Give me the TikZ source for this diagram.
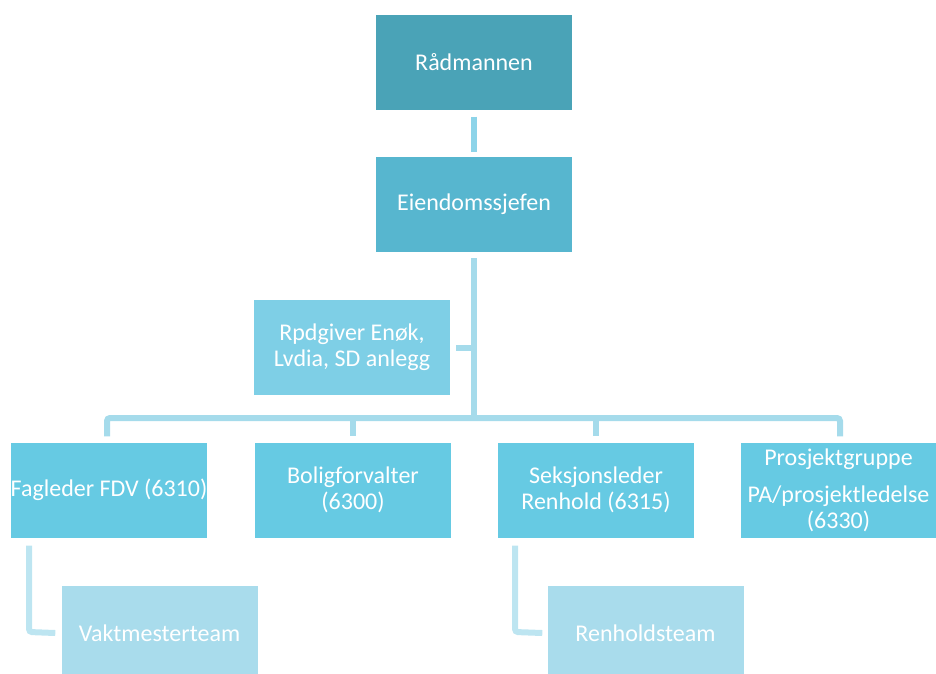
\documentclass[tikz,border=0pt]{standalone}
\usepackage{fontspec}
\setmainfont{Carlito}
\definecolor{cTop}{HTML}{4AA3B7}
\definecolor{cMid}{HTML}{57B6CF}
\definecolor{cAdv}{HTML}{7ECFE6}
\definecolor{cRow}{HTML}{66CAE3}
\definecolor{cChild}{HTML}{A9DCEC}
\definecolor{cLine}{HTML}{A5DBEB}
\definecolor{cLineTop}{HTML}{8DD4E9}
\definecolor{cLineChild}{HTML}{BDE5F1}
\begin{document}
\begin{tikzpicture}[x=1pt,y=-1pt,
  box/.style={rectangle, minimum width=196pt, minimum height=95pt, inner sep=0pt,
    text=white, align=center, font=\fontsize{24}{26}\selectfont},
  conn/.style={line width=6pt, color=cLine, rounded corners=3pt},
]
\useasboundingbox (0,0) rectangle (936,673);
\node[box, fill=cTop] (rad) at (474,62) {Rådmannen};
\node[box, fill=cMid] (eien) at (474,204.5) {Eiendomssjefen};
\node[box, fill=cAdv] (adv) at (352,347.5) {Rpdgiver Enøk,\\Lvdia, SD anlegg};
\node[box, fill=cRow] (fag) at (109,490) {Fagleder FDV (6310)};
\node[box, fill=cRow] (bol) at (353,490) {Boligforvalter\\(6300)};
\node[box, fill=cRow] (sek) at (596,490) {Seksjonsleder\\Renhold (6315)};
\node[box, fill=cRow] (pro) at (838.5,490) {Prosjektgruppe\\[11pt]PA/prosjektledelse\\(6330)};
\node[box, fill=cChild] (vak) at (159.5,633) {Vaktmesterteam};
\node[box, fill=cChild] (ren) at (645.5,633) {Renholdsteam};
\coordinate (busL) at (107,418);
\coordinate (busR) at (840,418);
% connectors
\draw[conn, color=cLineTop] ([yshift=-7pt]rad.south) -- ([yshift=5pt]eien.north);
\draw[conn] ([yshift=-6pt]eien.south) -- (eien.south |- busL);
\draw[conn] ([xshift=6pt]adv.east) -- (adv.east -| eien.south);
\draw[conn] ([yshift=6pt]fag.north -| busL) -- (busL) -- (busR) -- ([yshift=6pt]pro.north -| busR);
\draw[conn] (bol.north |- busL) -- ([yshift=6pt]bol.north);
\draw[conn] (sek.north |- busL) -- ([yshift=6pt]sek.north);
\draw[conn, color=cLineChild] ([yshift=-8pt]fag.south west -| 29,0) -- (29,632) -- ([xshift=-6pt]vak.west);
\draw[conn, color=cLineChild] ([yshift=-8pt]sek.south west -| 515,0) -- (515,632) -- ([xshift=-5pt]ren.west);
\end{tikzpicture}
\end{document}
